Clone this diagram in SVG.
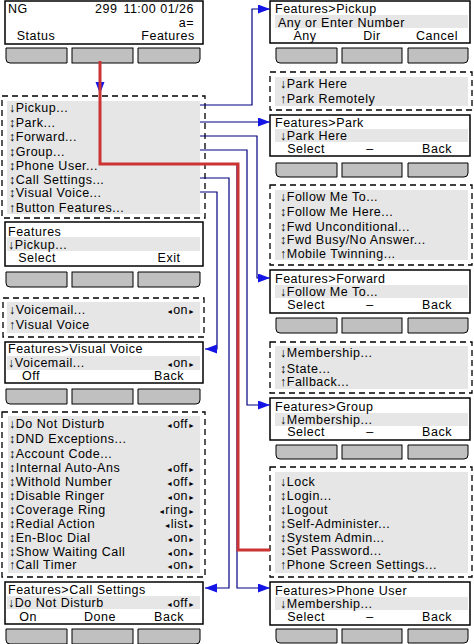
<svg xmlns="http://www.w3.org/2000/svg" width="474" height="644" viewBox="0 0 474 644">
<defs>
<marker id="ah" markerUnits="userSpaceOnUse" markerWidth="13" markerHeight="10" refX="12" refY="4.5" orient="auto">
<path d="M0,0 L12,4.5 L0,9 Z" fill="#1414e6"/>
</marker>
<style>
.scr{fill:#fff;stroke:#000;stroke-width:1.5}
.dash{fill:#fff;stroke:#000;stroke-width:1.3;stroke-dasharray:6 4}
.band{fill:#e6e6e6}
.btn{fill:#c0c0c0;stroke:#000;stroke-width:1}
text{font-family:"Liberation Sans",Arial,sans-serif;font-size:12.5px;letter-spacing:0.5px;fill:#000}
.m{text-anchor:middle}
.e{text-anchor:end}
.s{font-size:7px;letter-spacing:0}
.con{fill:none;stroke:#000080;stroke-width:1.2;marker-end:url(#ah)}
.red{fill:none;stroke:#cc3333;stroke-width:3}
</style>
</defs>
<rect width="474" height="644" fill="#fff"/>

<g id="home">
<rect class="scr" x="5" y="1" width="198" height="43"/>
<text x="8" y="13">NG</text>
<text x="95" y="13">299</text>
<text class="e" x="194" y="13">11:00 01/26</text>
<text class="e" x="194" y="27">a=</text>
<text class="m" x="36" y="39.5">Status</text>
<text class="m" x="168" y="39.5">Features</text>
<path class="btn" d="M6,48 H67 V63 H10 Q6,63 6,59 Z"/>
<rect class="btn" x="72" y="48" width="61" height="15"/>
<path class="btn" d="M138,48 H200 V59 Q200,63 196,63 H138 Z"/>
</g>

<g id="features-menu">
<rect class="dash" x="2" y="96" width="203" height="122"/>
<rect class="band" x="7" y="101" width="193" height="113"/>
<text x="9" y="111.5">↓Pickup...</text>
<text x="9" y="126.5">↕Park...</text>
<text x="9" y="140.5">↕Forward...</text>
<text x="9" y="155.5">↕Group...</text>
<text x="9" y="169.5">↕Phone User...</text>
<text x="9" y="183.5">↕Call Settings...</text>
<text x="9" y="197">↕Visual Voice...</text>
<text x="9" y="211.5">↑Button Features...</text>
</g>

<g id="features-screen">
<rect class="scr" x="5" y="222" width="198" height="44"/>
<rect class="band" x="7" y="237" width="193" height="14"/>
<text x="8" y="236">Features</text>
<text x="8" y="249">↓Pickup...</text>
<text class="m" x="37" y="261.5">Select</text>
<text class="m" x="169" y="261.5">Exit</text>
<path class="btn" d="M6,272 H67 V287 H10 Q6,287 6,283 Z"/>
<rect class="btn" x="72" y="272" width="61" height="15"/>
<path class="btn" d="M138,272 H200 V283 Q200,287 196,287 H138 Z"/>
</g>

<g id="visual-voice-menu">
<rect class="dash" x="3" y="298" width="201" height="39"/>
<rect class="band" x="7" y="302" width="193" height="31"/>
<text x="9" y="313.5">↓Voicemail...</text>
<text class="e" x="195" y="313.5"><tspan class="s">◄</tspan>on<tspan class="s">►</tspan></text>
<text x="9" y="328.5">↑Visual Voice</text>
</g>

<g id="visual-voice-screen">
<rect class="scr" x="5" y="342" width="198" height="41"/>
<rect class="band" x="7" y="356" width="193" height="14"/>
<text x="8" y="353">Features&gt;Visual Voice</text>
<text x="8" y="367">↓Voicemail...</text>
<text class="e" x="195" y="367"><tspan class="s">◄</tspan>on<tspan class="s">►</tspan></text>
<text class="m" x="31" y="380">Off</text>
<text class="m" x="169" y="380">Back</text>
<path class="btn" d="M6,389 H67 V404 H10 Q6,404 6,400 Z"/>
<rect class="btn" x="72" y="389" width="61" height="15"/>
<path class="btn" d="M138,389 H200 V400 Q200,404 196,404 H138 Z"/>
</g>

<g id="call-settings-menu">
<rect class="dash" x="2" y="412" width="203" height="165"/>
<rect class="band" x="8" y="416" width="192" height="157"/>
<text x="9" y="427.5">↓Do Not Disturb</text>
<text class="e" x="195" y="427.5"><tspan class="s">◄</tspan>off<tspan class="s">►</tspan></text>
<text x="9" y="442.5">↕DND Exceptions...</text>
<text x="9" y="458">↕Account Code...</text>
<text x="9" y="471.5">↕Internal Auto-Ans</text>
<text class="e" x="195" y="471.5"><tspan class="s">◄</tspan>off<tspan class="s">►</tspan></text>
<text x="9" y="485.5">↕Withold Number</text>
<text class="e" x="195" y="485.5"><tspan class="s">◄</tspan>off<tspan class="s">►</tspan></text>
<text x="9" y="499.5">↕Disable Ringer</text>
<text class="e" x="195" y="499.5"><tspan class="s">◄</tspan>on<tspan class="s">►</tspan></text>
<text x="9" y="513.5">↕Coverage Ring</text>
<text class="e" x="195" y="513.5"><tspan class="s">◄</tspan>ring<tspan class="s">►</tspan></text>
<text x="9" y="527.5">↕Redial Action</text>
<text class="e" x="195" y="527.5"><tspan class="s">◄</tspan>list<tspan class="s">►</tspan></text>
<text x="9" y="541.5">↕En-Bloc Dial</text>
<text class="e" x="195" y="541.5"><tspan class="s">◄</tspan>on<tspan class="s">►</tspan></text>
<text x="9" y="555.5">↕Show Waiting Call</text>
<text class="e" x="195" y="555.5"><tspan class="s">◄</tspan>on<tspan class="s">►</tspan></text>
<text x="9" y="568.5">↑Call Timer</text>
<text class="e" x="195" y="568.5"><tspan class="s">◄</tspan>on<tspan class="s">►</tspan></text>
</g>

<g id="call-settings-screen">
<rect class="scr" x="5" y="582" width="198" height="42"/>
<rect class="band" x="7" y="596" width="193" height="13"/>
<text x="8" y="593.5">Features&gt;Call Settings</text>
<text x="8" y="606.5">↓Do Not Disturb</text>
<text class="e" x="195" y="606.5"><tspan class="s">◄</tspan>off<tspan class="s">►</tspan></text>
<text class="m" x="28" y="621">On</text>
<text class="m" x="100" y="621">Done</text>
<text class="m" x="169" y="621">Back</text>
<path class="btn" d="M6,629 H67 V644 H10 Q6,644 6,640 Z"/>
<rect class="btn" x="72" y="629" width="61" height="15"/>
<path class="btn" d="M138,629 H200 V640 Q200,644 196,644 H138 Z"/>
</g>

<g id="pickup-screen">
<rect class="scr" x="270" y="1" width="200" height="42"/>
<rect class="band" x="275" y="15" width="193" height="13"/>
<text x="275" y="13">Features&gt;Pickup</text>
<text x="278" y="26.5">Any or Enter Number</text>
<text class="m" x="305" y="39.5">Any</text>
<text class="m" x="372" y="39.5">Dir</text>
<text class="m" x="437" y="39.5">Cancel</text>
<path class="btn" d="M276,48 H337 V63 H280 Q276,63 276,59 Z"/>
<rect class="btn" x="342" y="48" width="60" height="15"/>
<path class="btn" d="M408,48 H468 V59 Q468,63 464,63 H408 Z"/>
</g>

<g id="park-menu">
<rect class="dash" x="270" y="72" width="202" height="38"/>
<rect class="band" x="275" y="77" width="193" height="29"/>
<text x="280" y="87.5">↓Park Here</text>
<text x="280" y="102.5">↑Park Remotely</text>
</g>

<g id="park-screen">
<rect class="scr" x="270" y="115" width="200" height="41"/>
<rect class="band" x="275" y="129" width="193" height="13"/>
<text x="275" y="126.5">Features&gt;Park</text>
<text x="280" y="139.5">↓Park Here</text>
<text class="m" x="306" y="152.5">Select</text>
<text class="m" x="370" y="152.5">–</text>
<text class="m" x="437" y="152.5">Back</text>
<path class="btn" d="M276,163 H337 V177 H280 Q276,177 276,173 Z"/>
<rect class="btn" x="342" y="163" width="60" height="14"/>
<path class="btn" d="M408,163 H468 V173 Q468,177 464,177 H408 Z"/>
</g>

<g id="forward-menu">
<rect class="dash" x="270" y="185" width="202" height="80"/>
<rect class="band" x="275" y="190" width="193" height="70"/>
<text x="280" y="201">↓Follow Me To...</text>
<text x="280" y="216">↕Follow Me Here...</text>
<text x="280" y="231">↕Fwd Unconditional...</text>
<text x="280" y="244">↕Fwd Busy/No Answer...</text>
<text x="280" y="258">↑Mobile Twinning...</text>
</g>

<g id="forward-screen">
<rect class="scr" x="270" y="270" width="200" height="43"/>
<rect class="band" x="275" y="285" width="193" height="13"/>
<text x="275" y="282.5">Features&gt;Forward</text>
<text x="280" y="296">↓Follow Me To...</text>
<text class="m" x="306" y="308.5">Select</text>
<text class="m" x="370" y="308.5">–</text>
<text class="m" x="437" y="308.5">Back</text>
<path class="btn" d="M276,318 H337 V333 H280 Q276,333 276,329 Z"/>
<rect class="btn" x="342" y="318" width="60" height="15"/>
<path class="btn" d="M408,318 H468 V329 Q468,333 464,333 H408 Z"/>
</g>

<g id="group-menu">
<rect class="dash" x="270" y="342" width="202" height="51"/>
<rect class="band" x="275" y="346" width="193" height="43"/>
<text x="280" y="356.5">↓Membership...</text>
<text x="280" y="372.5">↕State...</text>
<text x="280" y="385.5">↑Fallback...</text>
</g>

<g id="group-screen">
<rect class="scr" x="270" y="398" width="200" height="42"/>
<rect class="band" x="275" y="413" width="193" height="13"/>
<text x="275" y="410.5">Features&gt;Group</text>
<text x="280" y="423.5">↓Membership...</text>
<text class="m" x="306" y="436">Select</text>
<text class="m" x="370" y="436">–</text>
<text class="m" x="437" y="436">Back</text>
<path class="btn" d="M276,445 H337 V459 H280 Q276,459 276,455 Z"/>
<rect class="btn" x="342" y="445" width="60" height="14"/>
<path class="btn" d="M408,445 H468 V455 Q468,459 464,459 H408 Z"/>
</g>

<g id="phone-user-menu">
<rect class="dash" x="270" y="467" width="202" height="110"/>
<rect class="band" x="275" y="472" width="193" height="101"/>
<text x="280" y="485.5">↓Lock</text>
<text x="280" y="499.5">↕Login...</text>
<text x="280" y="513.5">↕Logout</text>
<text x="280" y="527.5">↕Self-Administer...</text>
<text x="280" y="542">↕System Admin...</text>
<text x="280" y="554.5">↕Set Password...</text>
<text x="280" y="569">↑Phone Screen Settings...</text>
</g>

<g id="phone-user-screen">
<rect class="scr" x="270" y="582" width="200" height="43"/>
<rect class="band" x="275" y="597" width="193" height="13"/>
<text x="275" y="594.5">Features&gt;Phone User</text>
<text x="280" y="607.5">↓Membership...</text>
<text class="m" x="306" y="620.5">Select</text>
<text class="m" x="370" y="620.5">–</text>
<text class="m" x="437" y="620.5">Back</text>
<path class="btn" d="M276,629 H337 V643 H280 Q276,643 276,639 Z"/>
<rect class="btn" x="342" y="629" width="60" height="14"/>
<path class="btn" d="M408,629 H468 V639 Q468,643 464,643 H408 Z"/>
</g>

<g id="connectors">
<path class="con" d="M100,63 V94"/>
<path class="con" d="M200,105 H252 V9 H270"/>
<path class="con" d="M200,122 H270"/>
<path class="con" d="M200,136 H257 V278 H270"/>
<path class="con" d="M200,150 H247 V405 H270"/>
<path class="con" d="M200,164 H237 V588 H270"/>
<path class="con" d="M200,178 H229 V588 H205"/>
<path class="con" d="M200,192 H217 V349 H205"/>
<path class="red" d="M100,61 V164 H238 V550 H270"/>
</g>
</svg>
